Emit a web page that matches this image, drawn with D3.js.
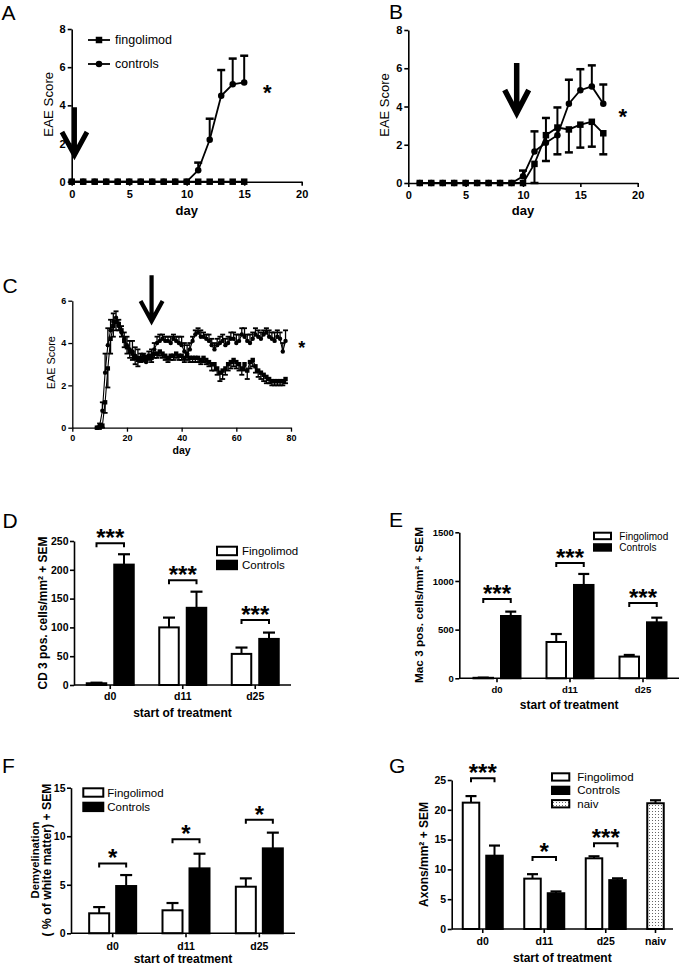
<!DOCTYPE html>
<html><head><meta charset="utf-8">
<script src="https://cdnjs.cloudflare.com/ajax/libs/d3/7.8.5/d3.min.js"></script>
<style>body{margin:0;background:#fff}svg{display:block}</style>
</head><body>
<svg id="fig" width="680" height="966"></svg>
<script>
// ---------------- DATA ----------------
// Panel A (days since immunisation, EAE score)
const daysA = [0,1,2,3,4,5,6,7,8,9,10,11,12,13,14,15];
const fingolimodA = [0,0,0,0,0,0,0,0,0,0,0,0,0,0,0,0];
const fingolimodSemA = [0,0,0,0,0,0,0,0,0,0,0,0,0,0,0,0];
const controlsA = [0,0,0,0,0,0,0,0,0,0,0,0.6,2.2,4.5,5.1,5.2];
const controlsSemA = [0,0,0,0,0,0,0,0,0,0,0,0.4,1.1,1.35,1.35,1.4];

// Panel B
const daysB = [1,2,3,4,5,6,7,8,9,10,11,12,13,14,15,16,17];
const fingolimodB = [0,0,0,0,0,0,0,0,0,0,1.0,2.5,2.9,2.8,3.05,3.2,2.6];
const fingolimodSemB = [0,0,0,0,0,0,0,0,0,0,1.0,1.35,1.4,1.2,1.2,1.3,1.1];
const controlsB = [0,0,0,0,0,0,0,0,0,0.35,1.65,2.1,2.5,4.15,4.85,5.05,4.15];
const controlsSemB = [0,0,0,0,0,0,0,0,0,0.3,1.05,1.3,1.45,1.25,1.1,1.1,1.0];

// Panel C
const daysC = [9,10,11,12,13,14,15,16,17,18,19,20,21,22,23,24,25,26,27,28,29,30,31,32,33,34,35,36,37,38,39,40,41,42,43,44,45,46,47,48,49,50,51,52,53,54,55,56,57,58,59,60,61,62,63,64,65,66,67,68,69,70,71,72,73,74,75,76,77,78];
const controlsC = [0,0.1,0.8,2.6,3.9,4.6,5.0,5.2,4.8,4.5,
  4.2,3.9,3.7,3.6,3.4,3.3,3.2,3.2,3.1,3.3,
  3.4,3.7,4.0,4.1,4.2,4.1,4.1,4.0,4.2,4.1,
  4.0,3.9,3.6,3.5,3.7,4.1,4.4,4.5,4.3,4.3,
  4.2,4.1,3.9,3.7,3.9,4.0,4.1,3.9,4.0,4.2,
  4.2,4.0,4.1,4.4,4.3,4.1,4.0,4.2,4.4,4.3,
  4.2,4.4,4.5,4.3,4.2,4.1,4.3,4.2,3.6,4.1];
const controlsSemC = [0,0.1,0.4,0.9,0.8,0.5,0.4,0.3,0.3,0.3,
  0.3,0.4,0.4,0.5,0.4,0.4,0.3,0.3,0.3,0.3,
  0.3,0.3,0.3,0.3,0.2,0.2,0.2,0.3,0.2,0.2,
  0.3,0.4,0.4,0.4,0.3,0.2,0.2,0.2,0.3,0.2,
  0.2,0.3,0.3,0.3,0.3,0.3,0.3,0.3,0.3,0.3,
  0.3,0.4,0.3,0.3,0.4,0.3,0.4,0.3,0.3,0.3,
  0.3,0.2,0.2,0.3,0.3,0.4,0.3,0.3,0.4,0.5];
const fingolimodC = [0,0,0.1,1.2,2.8,4.2,4.8,5.0,4.9,4.6,
  4.1,3.8,3.6,3.5,3.3,3.2,3.3,3.4,3.3,3.4,
  3.3,3.5,3.5,3.6,3.5,3.4,3.3,3.4,3.4,3.5,
  3.4,3.4,3.3,3.4,3.3,3.3,3.3,3.3,3.2,3.3,
  3.2,3.1,3.0,3.0,2.8,2.6,2.7,2.8,3.0,3.1,
  3.2,3.1,3.0,2.8,3.0,2.7,3.1,3.2,2.9,2.7,
  2.6,2.5,2.4,2.3,2.2,2.2,2.2,2.2,2.2,2.3];
const fingolimodSemC = [0,0,0.1,0.5,0.9,0.7,0.5,0.4,0.3,0.3,
  0.3,0.3,0.3,0.3,0.3,0.3,0.2,0.2,0.2,0.2,
  0.2,0.2,0.2,0.2,0.2,0.2,0.2,0.2,0.2,0.2,
  0.2,0.2,0.2,0.2,0.2,0.2,0.2,0.2,0.2,0.2,
  0.2,0.2,0.3,0.3,0.3,0.4,0.4,0.3,0.3,0.3,
  0.3,0.3,0.3,0.3,0.3,0.4,0.3,0.3,0.3,0.3,
  0.3,0.3,0.3,0.2,0.2,0.2,0.2,0.2,0.2,0.2];

const ticksDay20 = [0,5,10,15,20];
const ticksDay80 = [0,20,40,60,80];
const ticksScore8 = [0,2,4,6,8];
const ticksScore6 = [0,2,4,6];
const legendLineLabels = ["fingolimod","controls"];

// Bar panels
const barGroups = ["d0","d11","d25"];
const barGroupsG = ["d0","d11","d25","naiv"];
const naivGroup = ["naiv"];
const legendBarLabels = ["Fingolimod","Controls"];
const legendBarLabelsG = ["Fingolimod","Controls","naiv"];

const fingolimodD = [3,100,54];
const fingolimodSemD = [1,17,11];
const controlsD = [209,134,80];
const controlsSemD = [18,28,11];
const sigD = ["***","***","***"];
const bracketD = [246,182,113];
const ticksD = [0,50,100,150,200,250];

const fingolimodE = [5,373,223];
const fingolimodSemE = [2,82,17];
const controlsE = [640,959,575];
const controlsSemE = [45,113,48];
const sigE = ["***","***","***"];
const bracketE = [815,1185,774];
const ticksE = [0,500,1000,1500];

const fingolimodF = [2.06,2.37,4.8];
const fingolimodSemF = [0.64,0.75,0.86];
const controlsF = [4.87,6.69,8.75];
const controlsSemF = [1.13,1.51,1.62];
const sigF = ["*","*","*"];
const bracketF = [7.2,9.7,11.7];
const ticksF = [0,5,10,15];

const fingolimodG = [21.2,8.45,11.86];
const fingolimodSemG = [1.1,0.75,0.34];
const controlsG = [12.3,6.0,8.2];
const controlsSemG = [1.7,0.3,0.3];
const naivG = [21.1];
const naivSemG = [0.5];
const sigG = ["***","*","***"];
const bracketG = [25.3,12.1,14.4];
const ticksG = [0,5,10,15,20,25];

// ---------------- DRAWING ----------------
const FONT = '"Liberation Sans", Arial, Helvetica, sans-serif';
const svg = d3.select('#fig');
const defs = svg.append('defs');
const pat = defs.append('pattern').attr('id','dots').attr('width',3).attr('height',3).attr('patternUnits','userSpaceOnUse');
pat.append('rect').attr('width',3).attr('height',3).attr('fill','#fff');
pat.append('rect').attr('x',1).attr('y',1).attr('width',1).attr('height',1).attr('fill','#666');
const fmt = d => String(d);

function styleAxis(sel, fs, w) {
  sel.attr('font-family', FONT).attr('font-size', fs).attr('font-weight','bold');
  sel.selectAll('.domain').attr('stroke','#000').attr('stroke-width', w);
  sel.selectAll('.tick line').attr('stroke','#000').attr('stroke-width', w);
  sel.selectAll('.tick text').attr('fill','#000');
}
function txt(g, s, x, y, fs, opts={}) {
  return g.append('text').attr('x',x).attr('y',y).attr('font-family',FONT).attr('font-size',fs)
    .attr('font-weight', opts.bold ? 'bold':'normal').attr('text-anchor', opts.anchor||'start')
    .attr('fill','#000').text(s);
}
// rotated label; font size adjusted so the text spans the length measured on the reference
function rotLabel(g, lines, x, y, fs, bold, lh, lens) {
  lines.forEach((s,i) => {
    const t = g.append('text').attr('transform',`translate(${x + i*(lh||0)},${y}) rotate(-90)`)
      .attr('font-family',FONT).attr('font-size',fs).attr('font-weight',bold?'bold':'normal')
      .attr('text-anchor','middle').attr('fill','#000').text(s);
    if (lens && lens[i]) {
      const L = t.node().getComputedTextLength();
      if (L > 0) {
        const nf = Math.max(fs*0.85, Math.min(fs*1.3, fs*lens[i]/L));
        t.attr('font-size', nf);
      }
    }
  });
}
function marker(g, shape, cx, cy, ms) {
  if (shape === 'square') g.append('rect').attr('x',cx-ms/2).attr('y',cy-ms/2).attr('width',ms).attr('height',ms).attr('fill','#000');
  else g.append('circle').attr('cx',cx).attr('cy',cy).attr('r',ms/2).attr('fill','#000');
}

function linePanel(p) {
  const g = svg.append('g');
  const x = d3.scaleLinear().domain(p.xDomain).range(p.xRange);
  const y = d3.scaleLinear().domain(p.yDomain).range(p.yRange);
  g.append('g').attr('transform',`translate(${p.xRange[0]},0)`)
    .call(d3.axisLeft(y).tickValues(p.yTicks).tickFormat(fmt).tickSize(4).tickSizeOuter(0).tickPadding(p.yPad))
    .call(styleAxis, p.tickFs, p.axisW);
  g.append('g').attr('transform',`translate(0,${p.yRange[0]})`)
    .call(d3.axisBottom(x).tickValues(p.xTicks).tickFormat(fmt).tickSize(4).tickSizeOuter(0).tickPadding(p.xPad))
    .call(styleAxis, p.tickFs, p.axisW);

  p.series.forEach(s => {
    const pts = s.x.map((d,i)=>({d, v:s.y[i], e:s.sem[i]}));
    const eb = pts.filter(q => q.e > 0);
    g.selectAll(null).data(eb).join('line')
      .attr('x1',q=>x(q.d)).attr('x2',q=>x(q.d)).attr('y1',q=>y(q.v)).attr('y2',q=>y(q.v + s.dir*q.e))
      .attr('stroke','#000').attr('stroke-width',p.ew);
    g.selectAll(null).data(eb).join('line')
      .attr('x1',q=>x(q.d)-p.cap/2).attr('x2',q=>x(q.d)+p.cap/2)
      .attr('y1',q=>y(q.v + s.dir*q.e)).attr('y2',q=>y(q.v + s.dir*q.e))
      .attr('stroke','#000').attr('stroke-width',p.capW);
    g.append('path').datum(pts).attr('d', d3.line().x(q=>x(q.d)).y(q=>y(q.v)))
      .attr('fill','none').attr('stroke','#000').attr('stroke-width',p.lw);
    pts.forEach(q => marker(g, s.shape, x(q.d), y(q.v), p.ms));
  });

  if (p.legend) {
    const L = p.legend;
    p.series.slice().reverse().forEach((s,i) => {
      const yy = L.y + i*L.dy;
      g.append('line').attr('x1',L.x).attr('x2',L.x+L.len).attr('y1',yy).attr('y2',yy).attr('stroke','#000').attr('stroke-width',p.lw);
      marker(g, s.shape, L.x+L.len/2, yy, p.ms);
      txt(g, L.labels[i], L.x+L.len+5, yy+0.35*L.fs, L.fs);
    });
  }
  const a = p.arrow;
  const ax = x(a.day), yTop = y(a.from), yTip = y(a.to);
  g.append('path').attr('d',`M${ax},${yTop}L${ax},${yTip}M${ax-a.hw/2},${yTip-a.hh}L${ax},${yTip}L${ax+a.hw/2},${yTip-a.hh}`)
    .attr('fill','none').attr('stroke','#000').attr('stroke-width',a.sw).attr('stroke-linejoin','miter');
  txt(g, '*', x(p.star.day), y(p.star.v) + 0.56*p.star.fs, p.star.fs, {bold:true, anchor:'middle'});
  rotLabel(g, [p.ylabel.text], p.ylabel.x, p.ylabel.y, p.ylabel.fs, false, 0, [p.ylabel.len]);
  txt(g, p.xlabel.text, (p.xRange[0]+p.xRange[1])/2, p.xlabel.y, p.xlabel.fs, {bold:true, anchor:'middle'});
  txt(g, p.letter.text, p.letter.x, p.letter.y, 21);
}

function barPanel(p) {
  const g = svg.append('g');
  const x = d3.scaleBand().domain(p.groups).range(p.bandRange);
  const y = d3.scaleLinear().domain(p.yDomain).range(p.yRange);
  const y0 = y(0);
  const barX = (grp, slot) => { const c = x(grp) + x.bandwidth()/2; return slot < 0 ? c - p.gap - p.barW : c + p.gap; };
  const barC = (grp, slot) => barX(grp, slot) + p.barW/2;

  p.series.forEach(s => {
    const data = s.groups.map((grp,i)=>({grp, v:s.values[i], e:s.sem[i]}));
    g.selectAll(null).data(data).join('line')
      .attr('x1',d=>barC(d.grp,s.slot)).attr('x2',d=>barC(d.grp,s.slot))
      .attr('y1',d=>y(d.v)).attr('y2',d=>y(d.v+d.e)).attr('stroke','#000').attr('stroke-width',2);
    g.selectAll(null).data(data).join('line')
      .attr('x1',d=>barC(d.grp,s.slot)-p.cap/2).attr('x2',d=>barC(d.grp,s.slot)+p.cap/2)
      .attr('y1',d=>y(d.v+d.e)).attr('y2',d=>y(d.v+d.e)).attr('stroke','#000').attr('stroke-width',2.2);
    g.selectAll(null).data(data).join('rect')
      .attr('x',d=>barX(d.grp,s.slot)).attr('width',p.barW)
      .attr('y',d=>y(d.v)).attr('height',d=>y0-y(d.v))
      .attr('fill',s.fill).attr('stroke','#000').attr('stroke-width',2);
  });

  g.append('g').attr('transform',`translate(${p.axisX},0)`)
    .call(d3.axisLeft(y).tickValues(p.yTicks).tickFormat(fmt).tickSize(4).tickSizeOuter(0).tickPadding(1.5))
    .call(styleAxis, p.tickFs, 1.6);
  g.append('line').attr('x1',p.axisX).attr('x2',p.axisEnd).attr('y1',y0).attr('y2',y0)
    .attr('stroke','#000').attr('stroke-width',1.6);
  p.groups.forEach(grp => {
    const slots = p.series.filter(s => s.groups.includes(grp)).map(s => barC(grp, s.slot));
    const cx = d3.mean(slots);
    g.append('line').attr('x1',cx).attr('x2',cx).attr('y1',y0).attr('y2',y0+4).attr('stroke','#000').attr('stroke-width',1.6);
    txt(g, grp, cx, y0 + p.xLabDy, p.tickFs, {bold:true, anchor:'middle'});
  });

  p.brackets.forEach((lvl,i) => {
    const grp = p.groups[i];
    const xa = barC(grp,-1), xb = barC(grp,1), yy = y(lvl);
    g.append('path').attr('d',`M${xa},${yy+4}L${xa},${yy}L${xb},${yy}L${xb},${yy+4}`)
      .attr('fill','none').attr('stroke','#000').attr('stroke-width',2);
    txt(g, p.sig[i], (xa+xb)/2, yy - 10.5 + 0.56*24, 24, {bold:true, anchor:'middle'});
  });

  const L = p.legend;
  L.labels.forEach((lab,i) => {
    const top = L.y + i*L.dy;
    g.append('rect').attr('x',L.x).attr('y',top).attr('width',L.w).attr('height',L.h)
      .attr('fill',L.fills[i]).attr('stroke','#000').attr('stroke-width',2);
    txt(g, lab, L.tx, top + L.h/2 + 0.36*L.fs, L.fs);
  });

  rotLabel(g, p.ylabel.lines, p.ylabel.x, p.ylabel.y, p.ylabel.fs, true, p.ylabel.lh, p.ylabel.lens);
  txt(g, 'start of treatment', (p.axisX+p.axisEnd)/2, p.xlabelY, 12, {bold:true, anchor:'middle'});
  txt(g, p.letter.text, p.letter.x, p.letter.y, 21);
}

// ---- Panel A
linePanel({
  xDomain:[0,20], yDomain:[0,8], xRange:[71.7,301.7], yRange:[181.7,29],
  xTicks:ticksDay20, yTicks:ticksScore8, tickFs:11, xPad:4.5, yPad:2, axisW:1.6,
  series:[{x:daysA,y:controlsA,sem:controlsSemA,dir:1,shape:'circle'},
          {x:daysA,y:fingolimodA,sem:fingolimodSemA,dir:-1,shape:'square'}],
  ms:6.5, lw:1.8, ew:2, cap:8, capW:2.5,
  legend:{x:88, y:40, dy:24, len:22, fs:12.5, labels:legendLineLabels},
  arrow:{day:0.24, from:3.9, to:1.4, hw:25, hh:23, sw:5},
  star:{day:17, v:4.9, fs:22},
  ylabel:{text:'EAE Score', x:52.6, y:104.2, fs:13, len:65}, xlabel:{text:'day', y:214.5, fs:13},
  letter:{text:'A', x:1.5, y:20}
});
// ---- Panel B
linePanel({
  xDomain:[0,20], yDomain:[0,8], xRange:[408.3,637.7], yRange:[183,30],
  xTicks:ticksDay20, yTicks:ticksScore8, tickFs:11, xPad:4.5, yPad:2, axisW:1.6,
  series:[{x:daysB,y:controlsB,sem:controlsSemB,dir:1,shape:'circle'},
          {x:daysB,y:fingolimodB,sem:fingolimodSemB,dir:-1,shape:'square'}],
  ms:6.5, lw:1.8, ew:2, cap:8, capW:2.5,
  arrow:{day:9.45, from:6.27, to:3.66, hw:24, hh:23, sw:5.5},
  star:{day:18.7, v:3.73, fs:22},
  ylabel:{text:'EAE Score', x:389, y:105, fs:13, len:63.5}, xlabel:{text:'day', y:215, fs:13},
  letter:{text:'B', x:389, y:18.5}
});
// ---- Panel C
linePanel({
  xDomain:[0,80], yDomain:[0,6], xRange:[72.3,291], yRange:[427.7,300.7],
  xTicks:ticksDay80, yTicks:ticksScore6, tickFs:9, xPad:2.6, yPad:2, axisW:1.3,
  series:[{x:daysC,y:controlsC,sem:controlsSemC,dir:1,shape:'circle'},
          {x:daysC,y:fingolimodC,sem:fingolimodSemC,dir:-1,shape:'square'}],
  ms:4.4, lw:1.1, ew:1.3, cap:5, capW:1.8,
  arrow:{day:29, from:7.2, to:5.04, hw:22, hh:20, sw:4.2},
  star:{day:83.9, v:3.95, fs:18},
  ylabel:{text:'EAE Score', x:54.8, y:362.7, fs:10.5, len:53.3}, xlabel:{text:'day', y:453.5, fs:10.5},
  letter:{text:'C', x:2.5, y:293}
});
// ---- Panel D
barPanel({
  groups:barGroups, bandRange:[74,291.5], axisX:74, axisEnd:291,
  yDomain:[0,250], yRange:[685,541], yTicks:ticksD, tickFs:10.5, xLabDy:14.5,
  barW:19.5, gap:4, cap:12,
  series:[{groups:barGroups, values:fingolimodD, sem:fingolimodSemD, slot:-1, fill:'#fff'},
          {groups:barGroups, values:controlsD, sem:controlsSemD, slot:1, fill:'#000'}],
  brackets:bracketD, sig:sigD,
  legend:{labels:legendBarLabels, fills:['#fff','#000'], x:217, y:546.7, w:20, h:8.5, dy:14, tx:242, fs:11.5},
  ylabel:{lines:['CD 3 pos. cells/mm² + SEM'], x:46.5, y:613, fs:11, lens:[153]},
  xlabelY:716.7, letter:{text:'D', x:2.5, y:528}
});
// ---- Panel E
barPanel({
  groups:barGroups, bandRange:[460.5,679.5], axisX:459.3, axisEnd:679,
  yDomain:[0,1500], yRange:[678.3,532.3], yTicks:ticksE, tickFs:9.5, xLabDy:14.2,
  barW:19.5, gap:4, cap:11,
  series:[{groups:barGroups, values:fingolimodE, sem:fingolimodSemE, slot:-1, fill:'#fff'},
          {groups:barGroups, values:controlsE, sem:controlsSemE, slot:1, fill:'#000'}],
  brackets:bracketE, sig:sigE,
  legend:{labels:legendBarLabels, fills:['#fff','#000'], x:594, y:532.7, w:17, h:6.5, dy:11.5, tx:619.3, fs:10},
  ylabel:{lines:['Mac 3 pos. cells/mm² + SEM'], x:423.3, y:605, fs:10.5, lens:[156]},
  xlabelY:709.3, letter:{text:'E', x:389, y:527}
});
// ---- Panel F
barPanel({
  groups:barGroups, bandRange:[76,296], axisX:71, axisEnd:295,
  yDomain:[0,15], yRange:[933.3,787.7], yTicks:ticksF, tickFs:10.5, xLabDy:16.5,
  barW:20, gap:3.5, cap:12,
  series:[{groups:barGroups, values:fingolimodF, sem:fingolimodSemF, slot:-1, fill:'#fff'},
          {groups:barGroups, values:controlsF, sem:controlsSemF, slot:1, fill:'#000'}],
  brackets:bracketF, sig:sigF,
  legend:{labels:legendBarLabels, fills:['#fff','#000'], x:83.3, y:788.3, w:20, h:8.4, dy:14.4, tx:107.3, fs:11.5},
  ylabel:{lines:['Demyelination','( % of white matter) + SEM'], x:39, y:860, fs:10.5, lh:11.5, lens:[77,153]},
  xlabelY:963.3, letter:{text:'F', x:2, y:773}
});
// ---- Panel G
barPanel({
  groups:barGroupsG, bandRange:[452,698], axisX:451.7, axisEnd:673,
  yDomain:[0,25], yRange:[929,780], yTicks:ticksG, tickFs:10.5, xLabDy:16,
  barW:16.5, gap:3.5, cap:11,
  series:[{groups:barGroups, values:fingolimodG, sem:fingolimodSemG, slot:-1, fill:'#fff'},
          {groups:barGroups, values:controlsG, sem:controlsSemG, slot:1, fill:'#000'},
          {groups:naivGroup, values:naivG, sem:naivSemG, slot:-1, fill:'url(#dots)'}],
  brackets:bracketG, sig:sigG,
  legend:{labels:legendBarLabelsG, fills:['#fff','#000','url(#dots)'], x:552, y:773.3, w:17.3, h:7.3, dy:13.4, tx:577.3, fs:11.5},
  ylabel:{lines:['Axons/mm² + SEM'], x:428, y:854.5, fs:11.5, lens:[105]},
  xlabelY:961.7, letter:{text:'G', x:389, y:773}
});
</script>
</body></html>
